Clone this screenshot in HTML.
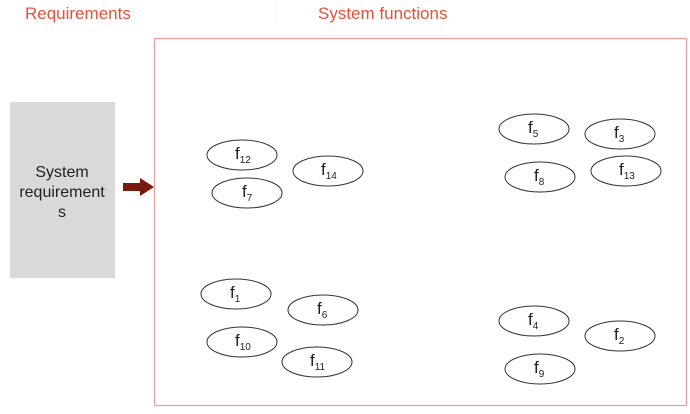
<!DOCTYPE html>
<html><head><style>
body{margin:0;width:690px;height:409px;background:#fff;overflow:hidden;font-family:"Liberation Sans",sans-serif}
</style></head><body>
<svg width="690" height="409" xmlns="http://www.w3.org/2000/svg" font-family="Liberation Sans, sans-serif">
<text x="25" y="19" font-size="17" fill="#e8503a">Requirements</text>
<text x="318" y="19" font-size="17" fill="#e8503a">System functions</text>
<line x1="276" y1="0" x2="276" y2="24" stroke="#f6f6f6"/>
<rect x="154.5" y="38.5" width="532" height="367" fill="none" stroke="#f29a9a" stroke-width="1.2"/>
<rect x="10" y="102" width="105" height="176" fill="#d9d9d9"/>
<text font-size="16" fill="#222" text-anchor="middle"><tspan x="62" y="177">System</tspan><tspan x="62" y="197">requirement</tspan><tspan x="62" y="217">s</tspan></text>
<path d="M123 183 H140 V178 L154 187 L140 196 V191 H123 Z" fill="#7a1a0c"/>
<g fill="none" stroke="#333" stroke-width="1">
<ellipse cx="242" cy="155" rx="35" ry="15"/>
<ellipse cx="247" cy="193" rx="35" ry="15"/>
<ellipse cx="328" cy="171" rx="35" ry="15"/>
<ellipse cx="534" cy="129" rx="35" ry="15"/>
<ellipse cx="620" cy="134" rx="35" ry="15"/>
<ellipse cx="540" cy="177" rx="35" ry="15"/>
<ellipse cx="626" cy="171" rx="35" ry="15"/>
<ellipse cx="236" cy="294" rx="35" ry="15"/>
<ellipse cx="323" cy="310" rx="35" ry="15"/>
<ellipse cx="242" cy="342" rx="35" ry="15"/>
<ellipse cx="317" cy="362" rx="35" ry="15"/>
<ellipse cx="534" cy="321" rx="35" ry="15"/>
<ellipse cx="620" cy="336" rx="35" ry="15"/>
<ellipse cx="540" cy="369" rx="35" ry="15"/>
</g>
<g font-size="17" fill="#222">
<text x="235" y="159">f<tspan font-size="10" dy="4">12</tspan></text>
<text x="242" y="197">f<tspan font-size="10" dy="4">7</tspan></text>
<text x="321" y="175">f<tspan font-size="10" dy="4">14</tspan></text>
<text x="528" y="133">f<tspan font-size="10" dy="4">5</tspan></text>
<text x="614" y="138">f<tspan font-size="10" dy="4">3</tspan></text>
<text x="534" y="181">f<tspan font-size="10" dy="4">8</tspan></text>
<text x="619" y="175">f<tspan font-size="10" dy="4">13</tspan></text>
<text x="230" y="298">f<tspan font-size="10" dy="4">1</tspan></text>
<text x="317" y="314">f<tspan font-size="10" dy="4">6</tspan></text>
<text x="235" y="346">f<tspan font-size="10" dy="4">10</tspan></text>
<text x="310" y="366">f<tspan font-size="10" dy="4">11</tspan></text>
<text x="528" y="325">f<tspan font-size="10" dy="4">4</tspan></text>
<text x="614" y="340">f<tspan font-size="10" dy="4">2</tspan></text>
<text x="534" y="373">f<tspan font-size="10" dy="4">9</tspan></text>
</g>
</svg>
</body></html>
